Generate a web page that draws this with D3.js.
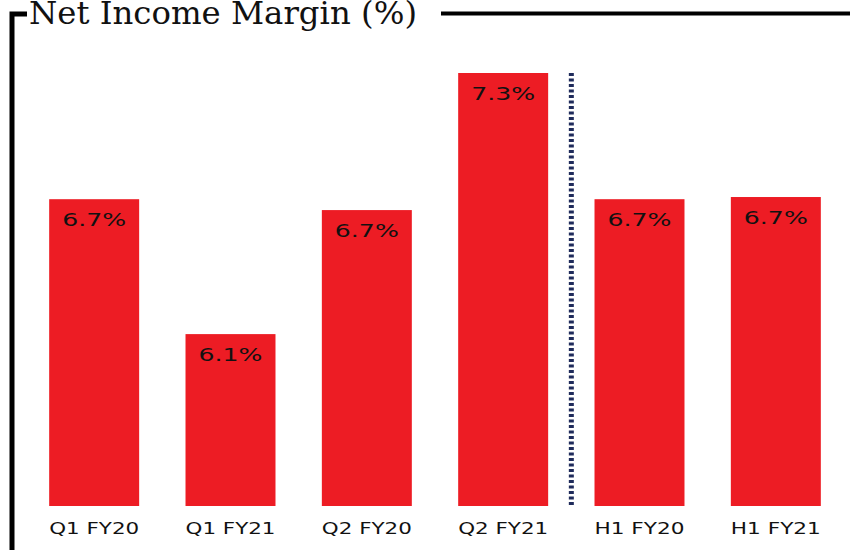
<!DOCTYPE html>
<html>
<head>
<meta charset="utf-8">
<script src="https://cdn.jsdelivr.net/npm/d3@7"></script>
<style>
  body { margin: 0; background: #fff; }
  svg { display: block; }
</style>
</head>
<body>
<svg id="chart"></svg>
<script>
// data
const periodos = ['Q1 FY20', 'Q1 FY21', 'Q2 FY20', 'Q2 FY21', 'H1 FY20', 'H1 FY21'];
const margen = [6.72, 6.10, 6.67, 7.30, 6.72, 6.73];
const titulo = 'Net Income Margin (%)';
const separadorDespues = 'Q2 FY21'; // dotted line between quarters and halves

const w = 850;
const h = 550;
const base = 506;

const svg = d3.select('#chart')
  .attr('width', w)
  .attr('height', h);

const escalaX = d3.scaleBand()
  .domain(periodos)
  .range([26, 844])
  .paddingInner(0.34)
  .paddingOuter(0.17);

const escalaY = d3.scaleLinear()
  .domain([5.31, 7.30])
  .range([base, 73]);

// frame
svg.append('path')
  .attr('d', 'M27,14 L12,14 L12,' + h)
  .attr('fill', 'none')
  .attr('stroke', '#000')
  .attr('stroke-width', 5);

svg.append('line')
  .attr('x1', 441).attr('x2', w)
  .attr('y1', 13.5).attr('y2', 13.5)
  .attr('stroke', '#000')
  .attr('stroke-width', 4);

svg.append('text')
  .attr('x', 29)
  .attr('y', 24)
  .attr('font-family', 'DejaVu Serif, serif')
  .attr('font-size', 32)
  .attr('textLength', 388)
  .attr('lengthAdjust', 'spacingAndGlyphs')
  .attr('fill', '#111')
  .text(titulo);

const bw = escalaX.bandwidth();

svg.selectAll('rect.bar')
  .data(margen)
  .enter()
  .append('rect')
  .attr('class', 'bar')
  .attr('x', (d, i) => escalaX(periodos[i]))
  .attr('y', d => escalaY(d))
  .attr('width', bw)
  .attr('height', d => base - escalaY(d))
  .attr('fill', '#ED1C24');

svg.selectAll('text.valor')
  .data(margen)
  .enter()
  .append('text')
  .attr('class', 'valor')
  .attr('x', (d, i) => escalaX(periodos[i]) + bw / 2 - 32)
  .attr('y', d => escalaY(d) + 27)
  .attr('font-family', 'DejaVu Sans, sans-serif')
  .attr('font-size', 18)
  .attr('textLength', 64)
  .attr('lengthAdjust', 'spacingAndGlyphs')
  .attr('fill', '#111')
  .text(d => d3.format('.1f')(d) + '%');

// category labels under the bars
const ejeX = d3.axisBottom(escalaX).tickSize(0).tickPadding(0);
const gx = svg.append('g')
  .attr('transform', 'translate(0,' + base + ')')
  .call(ejeX);
gx.select('.domain').remove();
gx.selectAll('text')
  .attr('y', 28)
  .attr('dy', 0)
  .attr('x', -bw / 2)
  .attr('text-anchor', 'start')
  .attr('font-family', 'DejaVu Sans, sans-serif')
  .attr('font-size', 16)
  .attr('textLength', bw)
  .attr('lengthAdjust', 'spacingAndGlyphs')
  .attr('fill', '#111');

// dotted separator
const i4 = periodos.indexOf(separadorDespues);
const xSep = (escalaX(periodos[i4]) + bw + escalaX(periodos[i4 + 1])) / 2;
svg.append('line')
  .attr('x1', xSep).attr('x2', xSep)
  .attr('y1', escalaY(d3.max(margen)))
  .attr('y2', base)
  .attr('stroke', '#1F2B5B')
  .attr('stroke-width', 5)
  .attr('stroke-dasharray', '3,2.5');
</script>
</body>
</html>
